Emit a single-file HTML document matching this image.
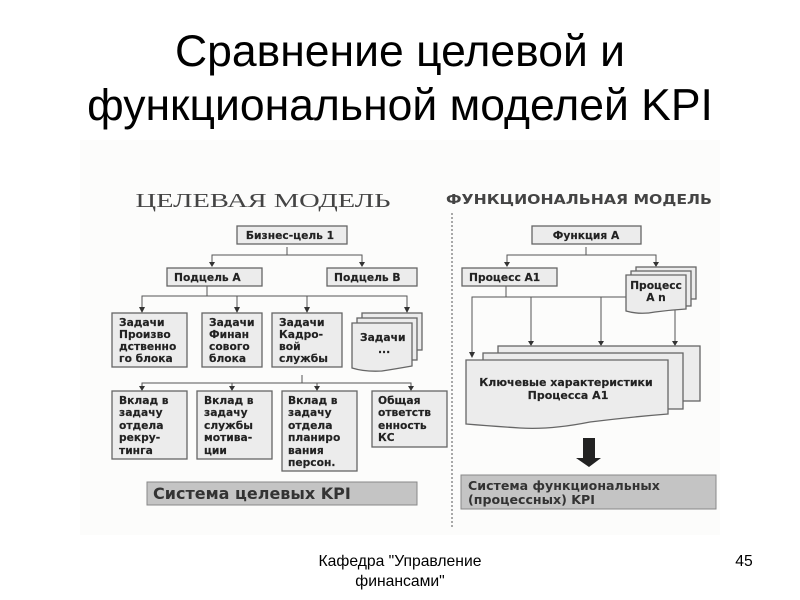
<!DOCTYPE html>
<html><head><meta charset="utf-8"><style>
html,body{margin:0;padding:0;background:#fff;width:800px;height:600px;overflow:hidden}
svg{display:block}
.t{font-family:"Liberation Sans",sans-serif;fill:#000}
.b{font-family:"DejaVu Sans",sans-serif;font-weight:bold;font-size:10.7px;fill:#222;stroke:#222;stroke-width:.15}
.r{fill:#ececec;stroke:#666;stroke-width:1.3}
.l{fill:none;stroke:#555;stroke-width:1}
.a{fill:#333}
</style></head><body>
<svg width="800" height="600" viewBox="0 0 800 600" xmlns="http://www.w3.org/2000/svg">
<text class="t" x="400" y="66" font-size="44.5" text-anchor="middle">Сравнение целевой и</text>
<text class="t" x="400" y="120" font-size="44.5" text-anchor="middle">функциональной моделей KPI</text>

<rect x="80" y="140" width="640" height="395" fill="#fcfcfb"/>

<text x="263" y="207" font-family="Liberation Serif,serif" font-size="20" fill="#444" text-anchor="middle" textLength="255" lengthAdjust="spacingAndGlyphs">ЦЕЛЕВАЯ МОДЕЛЬ</text>
<text x="579" y="204" font-family="DejaVu Sans,sans-serif" font-weight="bold" font-size="13" fill="#444" text-anchor="middle" textLength="266" lengthAdjust="spacingAndGlyphs">ФУНКЦИОНАЛЬНАЯ МОДЕЛЬ</text>
<line x1="452" y1="213" x2="452" y2="527" stroke="#555" stroke-width="1" stroke-dasharray="2 2"/>

<!-- left connectors -->
<path class="l" d="M287 247V255M212 262V255H362V262M207 286V296M142 307V296H407V307M237 307V296M307 307V296M302 375V383M142 386V383H411V386M232 386V383M317 386V383"/>
<path class="a" d="M209 262h6l-3 5zM359 262h6l-3 5zM139 307h6l-3 6zM234 307h6l-3 6zM304 307h6l-3 6zM404 307h6l-3 6zM139 386h6l-3 5zM229 386h6l-3 5zM314 386h6l-3 5zM408 386h6l-3 5z"/>

<rect class="r" x="237" y="226" width="110" height="18"/>
<text class="b" x="290" y="239" text-anchor="middle">Бизнес-цель 1</text>
<rect class="r" x="167" y="268" width="95" height="18"/>
<text class="b" x="174" y="281">Подцель А</text>
<rect class="r" x="327" y="268" width="90" height="18"/>
<text class="b" x="334" y="281">Подцель В</text>

<rect class="r" x="112" y="313" width="75" height="54"/>
<text class="b" x="119" y="326">Задачи</text><text class="b" x="119" y="338">Произво</text><text class="b" x="119" y="350">дственно</text><text class="b" x="119" y="362">го блока</text>
<rect class="r" x="202" y="313" width="60" height="54"/>
<text class="b" x="209" y="326">Задачи</text><text class="b" x="209" y="338">Финан</text><text class="b" x="209" y="350">сового</text><text class="b" x="209" y="362">блока</text>
<rect class="r" x="272" y="313" width="70" height="54"/>
<text class="b" x="279" y="326">Задачи</text><text class="b" x="279" y="338">Кадро-</text><text class="b" x="279" y="350">вой</text><text class="b" x="279" y="362">службы</text>

<rect class="r" x="362" y="313" width="60" height="37"/>
<rect class="r" x="357" y="318" width="60" height="42"/>
<path class="r" d="M352 323H412V366Q395 369 382 371Q365 372 352 368Z"/>
<text class="b" x="360" y="341">Задачи</text><text class="b" x="378" y="353">...</text>

<rect class="r" x="112" y="391" width="75" height="68"/>
<text class="b" x="119" y="404">Вклад в</text><text class="b" x="119" y="416">задачу</text><text class="b" x="119" y="429">отдела</text><text class="b" x="119" y="441">рекру-</text><text class="b" x="119" y="454">тинга</text>
<rect class="r" x="197" y="391" width="75" height="68"/>
<text class="b" x="204" y="404">Вклад в</text><text class="b" x="204" y="416">задачу</text><text class="b" x="204" y="429">службы</text><text class="b" x="204" y="441">мотива-</text><text class="b" x="204" y="454">ции</text>
<rect class="r" x="282" y="391" width="75" height="80"/>
<text class="b" x="288" y="404">Вклад в</text><text class="b" x="288" y="416">задачу</text><text class="b" x="288" y="429">отдела</text><text class="b" x="288" y="441">планиро</text><text class="b" x="288" y="454">вания</text><text class="b" x="288" y="466">персон.</text>
<rect class="r" x="372" y="391" width="75" height="56"/>
<text class="b" x="378" y="404">Общая</text><text class="b" x="378" y="416">ответств</text><text class="b" x="378" y="429">енность</text><text class="b" x="378" y="441">КС</text>

<rect x="147" y="482" width="270" height="23" fill="#c4c4c4" stroke="#888"/>
<text x="153" y="499" font-family="DejaVu Sans,sans-serif" font-weight="bold" font-size="16" fill="#333">Система целевых KPI</text>

<!-- right connectors -->
<path class="l" d="M586 247V255M507 262V255H656V262M506 286V297M472 352V297H626M531 341V297M601 341V297M675 309V341"/>
<path class="a" d="M504 262h6l-3 5zM653 262h6l-3 5zM469 352h6l-3 6zM528 341h6l-3 5zM598 341h6l-3 5zM672 341h6l-3 5z"/>

<rect class="r" x="532" y="226" width="109" height="18"/>
<text class="b" x="586" y="239" text-anchor="middle">Функция А</text>
<rect class="r" x="462" y="268" width="95" height="18"/>
<text class="b" x="469" y="281">Процесс А1</text>

<rect class="r" x="636" y="267" width="60" height="32"/>
<rect class="r" x="631" y="271" width="60" height="35"/>
<path class="r" d="M626 275H686V309Q670 310 655 312Q640 315 626 311Z"/>
<text class="b" x="656" y="289" text-anchor="middle">Процесс</text><text class="b" x="656" y="301" text-anchor="middle">А n</text>

<rect class="r" x="498" y="346" width="202" height="55"/>
<rect class="r" x="483" y="353" width="200" height="56"/>
<path class="r" d="M466 360H668V414Q630 417 590 422Q550 430 520 428Q490 426 466 424Z"/>
<text class="b" x="566" y="386" text-anchor="middle" style="font-size:11px">Ключевые характеристики</text>
<text class="b" x="568" y="399" text-anchor="middle" style="font-size:11px">Процесса А1</text>

<path fill="#222" d="M583 438H595V458H601L589 467L576 458H583Z"/>

<rect x="461" y="475" width="255" height="34" fill="#c4c4c4" stroke="#888"/>
<text x="468" y="490" font-family="DejaVu Sans,sans-serif" font-weight="bold" font-size="12.6" fill="#333">Система функциональных</text>
<text x="468" y="504" font-family="DejaVu Sans,sans-serif" font-weight="bold" font-size="12.6" fill="#333">(процессных) KPI</text>

<text class="t" x="400" y="566" font-size="15.7" text-anchor="middle">Кафедра "Управление</text>
<text class="t" x="400" y="586" font-size="15.7" text-anchor="middle">финансами"</text>
<text class="t" x="744" y="566" font-size="15.7" text-anchor="middle">45</text>
</svg>
</body></html>
